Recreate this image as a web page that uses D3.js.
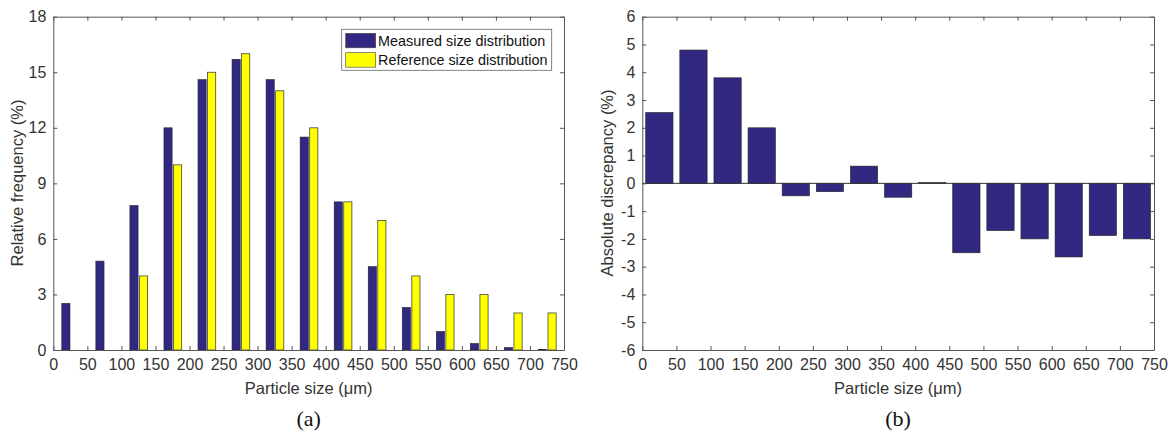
<!DOCTYPE html>
<html><head><meta charset="utf-8">
<script src="https://cdn.jsdelivr.net/npm/d3@7"></script>
<style>body{margin:0;background:#fff}svg{display:block}</style>
</head><body>
<svg id="c" width="1170" height="432"></svg>
<script>
const sizes = [25,75,125,175,225,275,325,375,425,475,525,575,625,675,725];
const measured = [2.52,4.8,7.8,12.0,14.6,15.7,14.6,11.5,8.0,4.5,2.3,1.0,0.35,0.13,0.03];
const reference = [0,0,4,10,15,16,14,12,8,7,4,3,3,2,2];
const discrepancy = [2.55,4.8,3.8,2.0,-0.45,-0.3,0.62,-0.5,0.03,-2.5,-1.7,-2.0,-2.65,-1.88,-2.0];
const xTicks = d3.range(0,751,50);
const yTicksA = [0,3,6,9,12,15,18];
const yTicksB = d3.range(-6,7,1);
const seriesNames = ["Measured size distribution","Reference size distribution"];
const navy = "#312881", yellow = "#ffff00";
const txt = "#333";
const font = "'Liberation Sans', Arial, sans-serif";
const fmt = d => String(d);

const svg = d3.select("#c");

function frame(g, x, y, yt){
  const [x0,x1]=x.range(), [y0,y1]=y.range();
  const tl=4;
  g.append("g").attr("transform",`translate(0,${y0})`)
    .call(d3.axisBottom(x).tickValues(xTicks).tickFormat(fmt).tickSizeInner(-tl).tickSizeOuter(0).tickPadding(9))
    .call(a=>{a.select(".domain").attr("stroke","#555");a.selectAll("line").attr("stroke","#555");
      a.selectAll("text").attr("font-family",font).attr("font-size",16).attr("fill",txt);});
  g.append("g").attr("transform",`translate(0,${y1})`)
    .call(d3.axisTop(x).tickValues(xTicks).tickSizeInner(-tl).tickSizeOuter(0).tickFormat(""))
    .call(a=>{a.select(".domain").attr("stroke","#555");a.selectAll("line").attr("stroke","#555");});
  g.append("g").attr("transform",`translate(${x0},0)`)
    .call(d3.axisLeft(y).tickValues(yt).tickFormat(fmt).tickSizeInner(-tl).tickSizeOuter(0).tickPadding(7))
    .call(a=>{a.select(".domain").attr("stroke","#555");a.selectAll("line").attr("stroke","#555");
      a.selectAll("text").attr("font-family",font).attr("font-size",16).attr("fill",txt);});
  g.append("g").attr("transform",`translate(${x1},0)`)
    .call(d3.axisRight(y).tickValues(yt).tickSizeInner(-tl).tickSizeOuter(0).tickFormat(""))
    .call(a=>{a.select(".domain").attr("stroke","#555");a.selectAll("line").attr("stroke","#555");});
}

// Chart (a)
const xa = d3.scaleLinear().domain([0,750]).range([53.3,564]);
const ya = d3.scaleLinear().domain([0,18]).range([350,16.7]);
const ga = svg.append("g");
ga.selectAll("rect.m").data(sizes).join("rect")
  .attr("x",(d)=>xa(d-12.5)).attr("width",xa(12)-xa(0))
  .attr("y",(d,i)=>ya(measured[i])).attr("height",(d,i)=>ya(0)-ya(measured[i]))
  .attr("fill",navy).attr("stroke","#222").attr("stroke-width",0.6);
ga.selectAll("rect.r").data(sizes).join("rect")
  .attr("x",(d)=>xa(d+1.5)).attr("width",xa(12)-xa(0))
  .attr("y",(d,i)=>ya(reference[i])).attr("height",(d,i)=>ya(0)-ya(reference[i]))
  .attr("fill",yellow).attr("stroke","#444").attr("stroke-width",0.8);
frame(ga, xa, ya, yTicksA);
// legend
const lg = ga.append("g");
lg.append("rect").attr("x",341.7).attr("y",29.3).attr("width",210).attr("height",41)
  .attr("fill","#fff").attr("stroke","#666").attr("stroke-width",0.8);
[navy,yellow].forEach((c,i)=>{
  lg.append("rect").attr("x",345.7).attr("y",33.3+i*19.4).attr("width",30).attr("height",14.5)
    .attr("fill",c).attr("stroke","#444").attr("stroke-width",0.6);
  lg.append("text").attr("x",378).attr("y",46+i*19).text(seriesNames[i])
    .attr("font-family",font).attr("font-size",14.4).attr("fill","#111");
});
ga.append("text").attr("x",308.6).attr("y",394).attr("text-anchor","middle")
  .attr("font-family",font).attr("font-size",16.5).attr("fill",txt).text("Particle size (μm)");
ga.append("text").attr("transform","translate(23,183) rotate(-90)").attr("text-anchor","middle")
  .attr("font-family",font).attr("font-size",16.5).attr("fill",txt).text("Relative frequency (%)");
ga.append("text").attr("x",308.6).attr("y",426).attr("text-anchor","middle")
  .attr("font-family","'Liberation Serif', 'Times New Roman', serif").attr("font-size",22).attr("fill","#111").text("(a)");

// Chart (b)
const xb = d3.scaleLinear().domain([0,750]).range([642.3,1154]);
const yb = d3.scaleLinear().domain([-6,6]).range([350,16.7]);
const gb = svg.append("g");
gb.selectAll("rect").data(sizes).join("rect")
  .attr("x",(d)=>xb(d-20)).attr("width",xb(40)-xb(0))
  .attr("y",(d,i)=>yb(Math.max(0,discrepancy[i])))
  .attr("height",(d,i)=>Math.abs(yb(discrepancy[i])-yb(0)))
  .attr("fill",navy).attr("stroke","#222").attr("stroke-width",0.6);
gb.append("line").attr("x1",xb(0)).attr("x2",xb(750)).attr("y1",yb(0)).attr("y2",yb(0))
  .attr("stroke","#333").attr("stroke-width",1);
frame(gb, xb, yb, yTicksB);
gb.append("text").attr("x",898).attr("y",394).attr("text-anchor","middle")
  .attr("font-family",font).attr("font-size",16.5).attr("fill",txt).text("Particle size (μm)");
gb.append("text").attr("transform","translate(613,183) rotate(-90)").attr("text-anchor","middle")
  .attr("font-family",font).attr("font-size",16.5).attr("fill",txt).text("Absolute discrepancy (%)");
gb.append("text").attr("x",898).attr("y",426).attr("text-anchor","middle")
  .attr("font-family","'Liberation Serif', 'Times New Roman', serif").attr("font-size",22).attr("fill","#111").text("(b)");
</script>
</body></html>
